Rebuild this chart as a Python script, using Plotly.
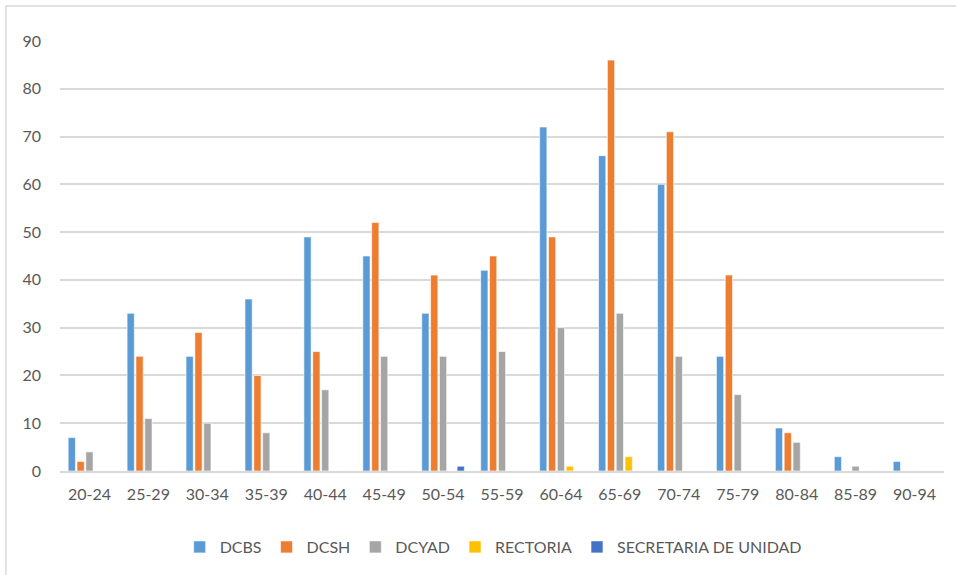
import plotly.graph_objects as go

age_groups = ["20-24", "25-29", "30-34", "35-39", "40-44", "45-49", "50-54",
              "55-59", "60-64", "65-69", "70-74", "75-79", "80-84", "85-89", "90-94"]

dcbs = [7, 33, 24, 36, 49, 45, 33, 42, 72, 66, 60, 24, 9, 3, 2]
dcsh = [2, 24, 29, 20, 25, 52, 41, 45, 49, 86, 71, 41, 8, 0, 0]
dcyad = [4, 11, 10, 8, 17, 24, 24, 25, 30, 33, 24, 16, 6, 1, 0]
rectoria = [0, 0, 0, 0, 0, 0, 0, 0, 1, 3, 0, 0, 0, 0, 0]
secretaria = [0, 0, 0, 0, 0, 0, 1, 0, 0, 0, 0, 0, 0, 0, 0]

series = [
    ("DCBS", dcbs, "#5B9BD5"),
    ("DCSH", dcsh, "#ED7D31"),
    ("DCYAD", dcyad, "#A5A5A5"),
    ("RECTORIA", rectoria, "#FFC000"),
    ("SECRETARIA DE UNIDAD", secretaria, "#4472C4"),
]

W, H = 956, 575
L, R, T, B = 60, 12, 41, 103

fig = go.Figure()
for name, vals, color in series:
    fig.add_trace(go.Bar(
        x=age_groups, y=vals, name=name,
        marker=dict(color=color, line=dict(color="white", width=0.6)),
    ))

font_family = "Lato, Liberation Sans, Arial, sans-serif"
text_color = "#595959"

pw = W - L - R
ph = H - T - B

fig.update_layout(
    width=W, height=H,
    margin=dict(l=L, r=R, t=T, b=B),
    paper_bgcolor="white", plot_bgcolor="white",
    barmode="group", bargap=0.25, bargroupgap=0.18,
    font=dict(family=font_family, size=16, color=text_color),
    showlegend=True,
    legend=dict(orientation="h", x=0.49, xanchor="center", y=-(547 - (T + ph)) / ph,
                yanchor="middle", font=dict(size=16, color=text_color),
                itemwidth=30, traceorder="normal"),
    xaxis=dict(showgrid=False, showline=True, linecolor="#D9D9D9", linewidth=1.5,
               ticks="", ticklabelstandoff=8, tickfont=dict(size=16, color=text_color)),
    yaxis=dict(range=[0, 90], dtick=10, showgrid=True, gridcolor="#D9D9D9",
               gridwidth=1.5, zeroline=False, ticks="", ticklabelstandoff=18,
               tickfont=dict(size=16, color=text_color)),
    shapes=[dict(type="rect", xref="paper", yref="paper",
                 x0=(6 - L) / pw, x1=(W + 10 - L) / pw,
                 y0=-(H + 10 - T - ph) / ph, y1=(T + ph - 6) / ph,
                 line=dict(color="#D9D9D9", width=1.5), fillcolor="rgba(0,0,0,0)",
                 layer="below")],
)

fig.write_html("out.html")
